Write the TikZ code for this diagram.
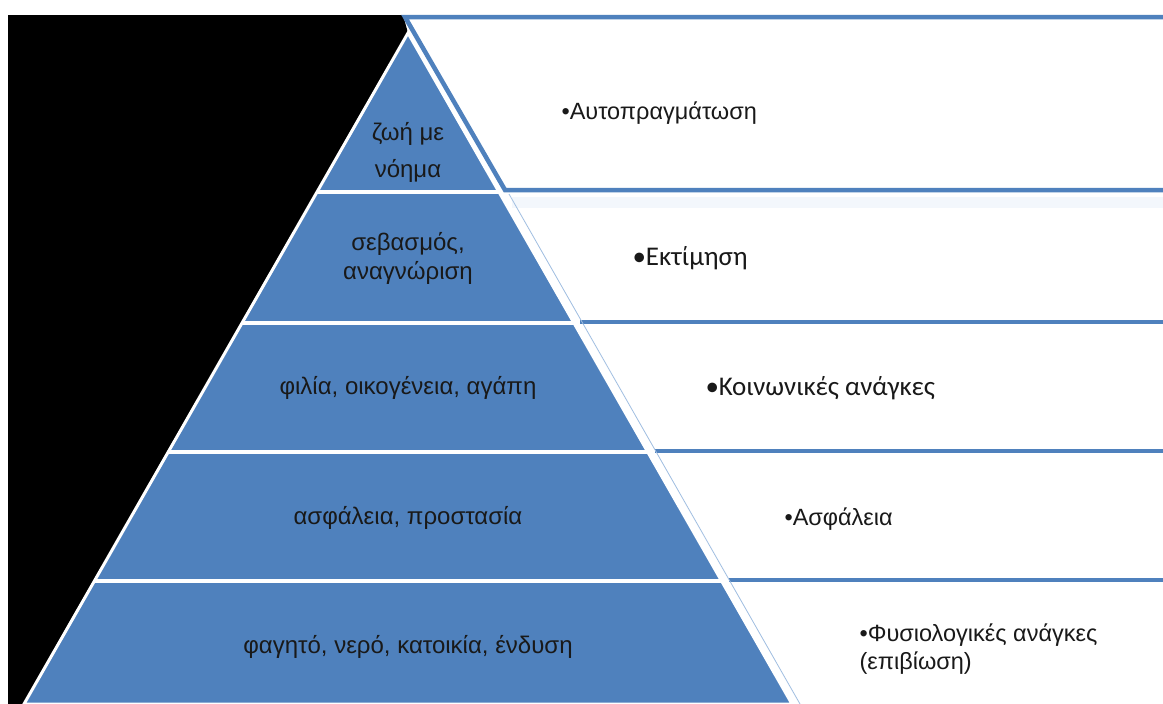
\documentclass[tikz,border=0pt]{standalone}
\usepackage{fontspec}
\setmainfont{Liberation Sans}
\newfontfamily\calfont{Carlito}
\usepackage{tikz}
\usetikzlibrary{calc}
\definecolor{tierblue}{RGB}{79,129,189}
\definecolor{edgeblue}{RGB}{160,190,225}
\definecolor{paleblue}{RGB}{243,247,252}
\definecolor{inkgray}{RGB}{25,25,25}

\begin{document}
\begin{tikzpicture}[x=1pt,y=-1pt,
  lvl/.style={text=inkgray,font=\fontsize{24}{29}\selectfont,align=center},
  need/.style={text=inkgray,font=\fontsize{23.5}{28}\selectfont,anchor=west,align=left},
  rule/.style={tierblue,line width=4.5pt}]
\useasboundingbox (0,0) rectangle (1163,704);
\fill[white] (0,0) rectangle (1163,704);

% corners of the pyramid
\coordinate (top) at (408,33);
\coordinate (bl) at (24,704);
\coordinate (br) at (792,704);

% black background left of the pyramid
\fill[black] (8,15) -- (403,15) -- (top) -- (bl) -- (8,704) -- cycle;

% pyramid with white cuts
\filldraw[fill=tierblue,draw=white,line width=3pt] (top) -- (br) -- (bl) -- cycle;
\draw[white,line width=4pt] (317,192) -- (499,192);
\draw[white,line width=4pt] (242,323) -- (574,323);
\draw[white,line width=4pt] (168,452) -- (648,452);
\draw[white,line width=4pt] (94,581) -- (722,581);

% panels on the right
\fill[paleblue] (512,197) rectangle (1163,208);
\draw[rule] (1163,17) -- (405,17) -- (505,190) -- (1163,190);
\draw[rule] (580,322) -- (1163,322);
\draw[rule] (655,451) -- (1163,451);
\draw[rule] (729,580) -- (1163,580);
\draw[edgeblue,line width=0.8pt] (509,194) -- (800,704);

% tier labels
\node[lvl,font=\fontsize{24}{37}\selectfont] (t1) at (408,152) {ζωή με\\νόημα};
\node[lvl] (t2) at (408,258) {σεβασμός,\\αναγνώριση};
\node[lvl] (t3) at (408,388) {φιλία, οικογένεια, αγάπη};
\node[lvl] (t4) at (408,518) {ασφάλεια, προστασία};
\node[lvl] (t5) at (408,647) {φαγητό, νερό, κατοικία, ένδυση};

% needs
\node[need] (n1) at (558,113) {•Αυτοπραγμάτωση};
\node[need,font=\calfont\fontsize{27}{29}\selectfont] (n2) at (629,258) {•Εκτίμηση};
\node[need,font=\calfont\fontsize{27}{29}\selectfont] (n3) at (702,388) {•Κοινωνικές ανάγκες};
\node[need] (n4) at (781,519) {•Ασφάλεια};
\node[need] (n5) at (856,649) {•Φυσιολογικές ανάγκες\\ (επιβίωση)};
\end{tikzpicture}
\end{document}
